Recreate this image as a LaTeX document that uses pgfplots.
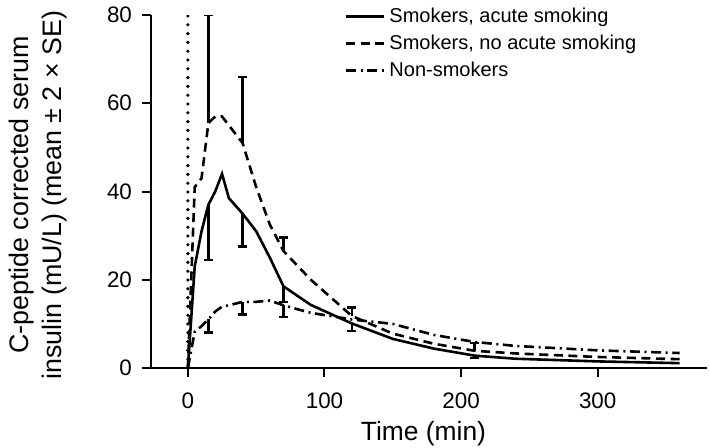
\documentclass[border=0pt]{standalone}
\usepackage{pgfplots}
\pgfplotsset{compat=1.18}
\usepackage{fontspec}
\setmainfont{Liberation Sans}
\begin{document}
\begin{tikzpicture}
\begin{axis}[
  at={(0,0)}, anchor=south west,
  scale only axis, width=278pt, height=176.5pt,
  xmin=-27, xmax=380, ymin=0, ymax=80,
  axis x line=bottom, axis y line=left,
  axis line style={-, line width=1pt},
  xtick={0,100,200,300}, ytick={0,20,40,60,80},
  tick align=outside, major tick length=4.5pt,
  tick style={line width=1pt, black},
  /pgf/number format/assume math mode=true,
  tick label style={font=\fontsize{11.2}{14}\selectfont},
  xticklabel style={yshift=-4.5pt},
  yticklabel style={xshift=-1.5pt},
  xlabel={Time (min)},
  xlabel style={at={(axis description cs:0.49,-0.204)}, anchor=base, font=\fontsize{13.2}{16}\selectfont},
  ylabel={C-peptide corrected serum\\insulin (mU/L) (mean ± 2 × SE)},
  ylabel style={at={(axis description cs:-0.203,0.49)}, anchor=center, align=center, font=\fontsize{13.4}{16.5}\selectfont},
  legend style={draw=none, fill=none, at={(axis description cs:0.348,1.033)}, anchor=north west,
    font=\fontsize{10}{12}\selectfont, inner sep=0pt, row sep=0.8pt},
  legend cell align=left,
  legend image code/.code={\draw[#1] (0pt,0pt) -- (19pt,0pt);},
]
% dotted line at time 0
\addplot[forget plot, black, line width=1.8pt, line cap=round, dash pattern=on 0pt off 4.4pt] coordinates {(0,0) (0,80)};

\addplot[black, line width=1.3pt] coordinates {
(0,0) (5,23) (10,31) (15,37) (20,40) (25,44) (30,38.5) (40,35) (50,31) (60,25) (70,18.5)
(90,14.3) (120,10.1) (150,6.6) (180,4.4) (210,2.8) (240,2.1) (300,1.5) (360,1.1)};
\addlegendentry{Smokers, acute smoking}

\addplot[black, line width=1.3pt, dash pattern=on 4.5pt off 2.8pt] coordinates {
(0,0) (5,41) (10,43) (15,55.5) (20,57) (25,57) (30,55) (40,51) (50,41) (60,32.5) (70,26.5)
(90,20) (120,11.8) (150,7.8) (180,5.5) (210,3.9) (240,3.3) (300,2.5) (360,2.0)};
\addlegendentry{Smokers, no acute smoking}

\addplot[black, line width=1.3pt, dash pattern=on 5pt off 2.3pt on 1pt off 2.3pt] coordinates {
(0,0) (5,8.2) (10,9.5) (15,11) (20,12.8) (25,13.9) (30,14.2) (40,15) (50,15) (60,15.3) (70,14.2)
(90,12.5) (120,11) (150,10) (180,7.5) (210,5.9) (240,5.0) (300,4.0) (360,3.4)};
\addlegendentry{Non-smokers}

% error bars
\addplot[forget plot, draw=none, mark=none,
  error bars/.cd, y dir=plus, y explicit,
  error bar style={draw=black, solid, line width=1.3pt},
  error mark options={rotate=90, draw=black, solid, line width=1.3pt, mark size=2.3pt}]
  coordinates {(15,55.5) +- (0,24.5) (40,51) +- (0,15) (70,26.5) +- (0,3.1) (120,11.8) +- (0,1.9) (210,3.9) +- (0,1.8)};
\addplot[forget plot, draw=none, mark=none,
  error bars/.cd, y dir=minus, y explicit,
  error bar style={draw=black, solid, line width=1.3pt},
  error mark options={rotate=90, draw=black, solid, line width=1.3pt, mark size=2.3pt}]
  coordinates {(15,37) +- (0,12.5) (40,35) +- (0,7.5) (70,18.5) +- (0,3.5) (120,10.1) +- (0,1.7) (210,2.8) +- (0,0.5)};
\addplot[forget plot, draw=none, mark=none,
  error bars/.cd, y dir=minus, y explicit,
  error bar style={draw=black, solid, line width=1.3pt},
  error mark options={rotate=90, draw=black, solid, line width=1.3pt, mark size=2.3pt}]
  coordinates {(15,11) +- (0,3) (40,15) +- (0,2.9) (70,14.2) +- (0,2.6)};
\end{axis}
\pgfresetboundingbox
\useasboundingbox (-75.5pt,-39.5pt) rectangle (279.5pt,184pt);
\end{tikzpicture}
\end{document}
